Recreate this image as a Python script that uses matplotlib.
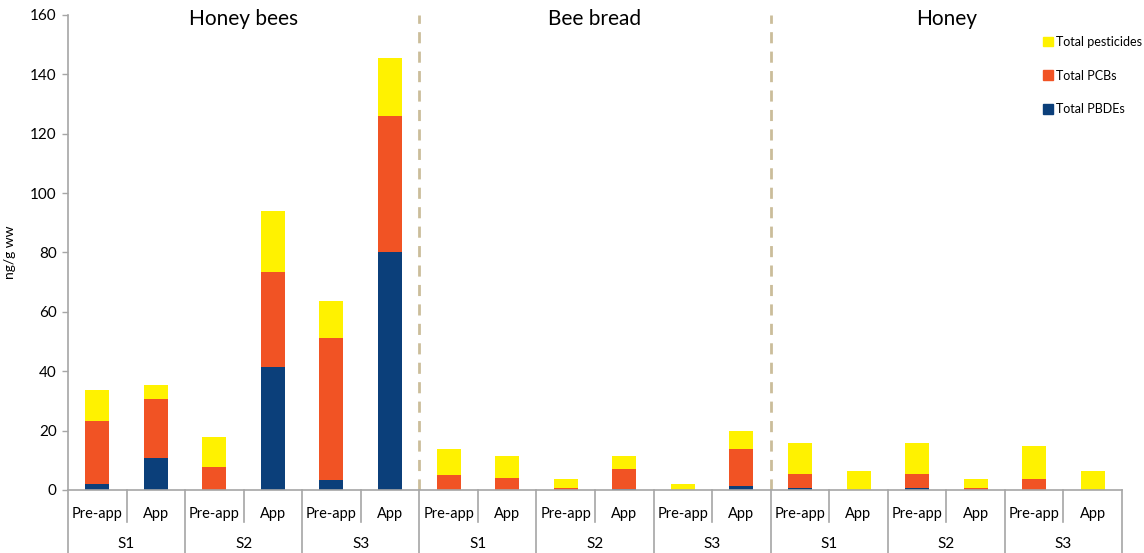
import matplotlib.pyplot as plt
from matplotlib.patches import Patch
import numpy as np

plt.rcParams['font.family'] = ['Lato', 'DejaVu Sans']

matrices = ["Honey bees", "Bee bread", "Honey"]
sites = ["S1", "S2", "S3"]
periods = ["Pre-app", "App"]

# stacked components, order: honey bees S1..S3, bee bread S1..S3, honey S1..S3 (Pre-app, App each)
pbdes = [2.0, 10.7, 0.0, 41.5, 3.3, 80.0,
         0.0, 0.0, 0.0, 0.4, 0.0, 1.2,
         0.8, 0.0, 0.8, 0.0, 0.0, 0.0]
pcbs = [21.3, 19.8, 7.7, 32.0, 48.0, 45.8,
        5.0, 4.0, 0.5, 6.7, 0.0, 12.6,
        4.6, 0.0, 4.6, 0.7, 3.6, 0.0]
pesticides = [10.2, 5.0, 10.3, 20.3, 12.2, 19.7,
              8.8, 7.5, 3.2, 4.4, 2.0, 6.0,
              10.4, 6.4, 10.4, 3.0, 11.3, 6.4]

c_pbde = '#0b3f7a'
c_pcb = '#f15324'
c_pest = '#fff200'
grey = '#a6a6a6'

fig = plt.figure(figsize=(11.44, 5.53), dpi=100)
ax = fig.add_axes([0.0594, 0.114, 0.9214, 0.859])

x = np.arange(len(pbdes))
w = 0.41
pbdes = np.array(pbdes)
pcbs = np.array(pcbs)
pesticides = np.array(pesticides)
ax.bar(x, pbdes, w, color=c_pbde)
ax.bar(x, pcbs, w, bottom=pbdes, color=c_pcb)
ax.bar(x, pesticides, w, bottom=pbdes + pcbs, color=c_pest)

ax.set_xlim(-0.5, 17.5)
ax.set_ylim(0, 160)
ax.set_yticks(range(0, 161, 20))
ax.tick_params(axis='y', labelsize=11, color=grey, length=4, width=1, pad=4)
ax.set_xticks([])
for s in ['top', 'right']:
    ax.spines[s].set_visible(False)
for s in ['left', 'bottom']:
    ax.spines[s].set_color(grey)
    ax.spines[s].set_linewidth(1.2)
ax.set_ylabel('ng/g ww', fontsize=10, labelpad=10)

# dashed separators and matrix titles
for m in range(3):
    if m > 0:
        ax.axvline(6 * m - 0.5, color='#cbbd9a', lw=2, ls=(0, (4, 3)))
    ax.text(6 * m + 2.5, 158.5, matrices[m], ha='center', va='center', fontsize=15)

# two-level category axis
trans = ax.get_xaxis_transform()
for i in range(len(pbdes)):
    ax.text(i, -0.05, periods[i % 2], transform=trans, ha='center', va='center', fontsize=10.5)
    if i % 2 == 1:
        ax.plot([i - 0.5, i - 0.5], [0, -0.067], transform=trans, color=grey, lw=1.2, clip_on=False)
for g in range(9):
    ax.text(2 * g + 0.5, -0.113, sites[g % 3], transform=trans, ha='center', va='center', fontsize=11)
for b in range(10):
    ax.plot([2 * b - 0.5, 2 * b - 0.5], [0, -0.14], transform=trans, color=grey, lw=1.2, clip_on=False)

handles = [Patch(color=c_pest, label='Total pesticides'),
           Patch(color=c_pcb, label='Total PCBs'),
           Patch(color=c_pbde, label='Total PBDEs')]
ax.legend(handles=handles, loc='upper right', bbox_to_anchor=(1.03, 0.98), frameon=False,
          fontsize=9, labelspacing=1.75, handlelength=0.8, handleheight=0.8, handletextpad=0.3)

fig.savefig('out.png', dpi=100)
